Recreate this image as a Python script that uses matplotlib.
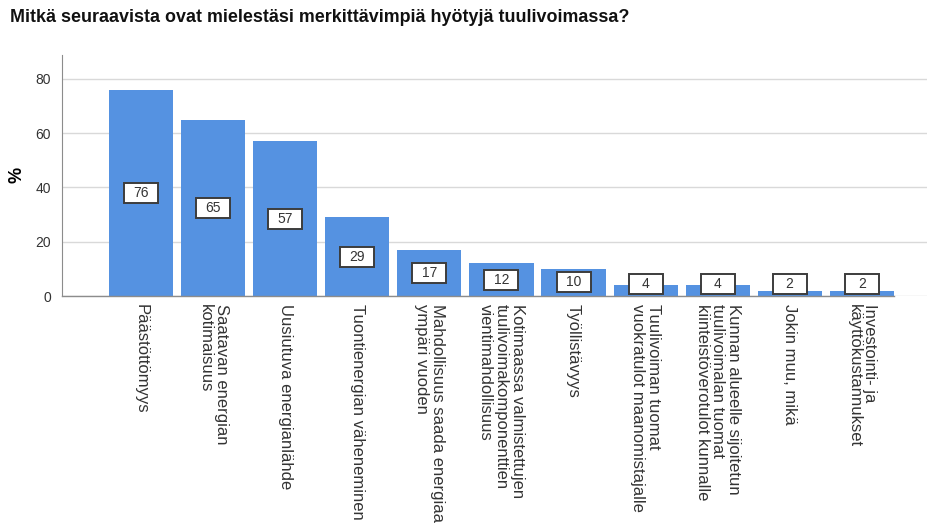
import matplotlib.pyplot as plt
from matplotlib.patches import Rectangle
from matplotlib.transforms import ScaledTranslation

plt.rcParams["font.family"] = ["Liberation Sans", "DejaVu Sans"]

# Data
categories = [
    "Päästöttömyys",
    "Saatavan energian\nkotimaisuus",
    "Uusiutuva energianlähde",
    "Tuontienergian väheneminen",
    "Mahdollisuus saada energiaa\nympäri vuoden",
    "Kotimaassa valmistettujen\ntuulivoimakomponenttien\nvientimahdollisuus",
    "Työllistävyys",
    "Tuulivoiman tuomat\nvuokratulot maanomistajalle",
    "Kunnan alueelle sijoitetun\ntuulivoimalan tuomat\nkiinteistöverotulot kunnalle",
    "Jokin muu, mikä",
    "Investointi- ja\nkäyttökustannukset",
]
values = [76, 65, 57, 29, 17, 12, 10, 4, 4, 2, 2]
yticks = [0, 20, 40, 60, 80]

title = "Mitkä seuraavista ovat mielestäsi merkittävimpiä hyötyjä tuulivoimassa?"
bar_color = "#5592e1"

fig = plt.figure(figsize=(9.28, 5.28), dpi=100)
ax = fig.add_axes([62 / 928, 1 - 296 / 528, 1 - 62 / 928, (296 - 55) / 528])

x = list(range(len(values)))
width = 0.89
ax.bar(x, values, width=width, color=bar_color, zorder=2)

ax.set_xlim(-1.1, 10.92)
ax.set_ylim(0, 88.8)
ax.set_yticks(yticks)
ax.yaxis.grid(True, color="#d9d9d9", linewidth=1, zorder=0)
ax.tick_params(axis="y", length=0, labelsize=10, colors="#333333", pad=8)

for side in ["top", "right", "bottom"]:
    ax.spines[side].set_visible(False)
ax.spines["left"].set_color("#8c8c8c")

# baseline under the bars
ax.plot([-1.1, x[-1] + width / 2], [0, 0], color="#8c8c8c", linewidth=1,
        zorder=3, clip_on=False)

ax.set_xticks(x)
ax.set_xticklabels(categories, rotation=270, fontsize=12, color="#333333",
                   ha="center", va="top", multialignment="left",
                   linespacing=1.05)
ax.tick_params(axis="x", length=0, pad=6)

ax.set_ylabel("%", fontsize=13, fontweight="bold")
ax.yaxis.set_label_coords(-36 / 866, (296 - 175) / 241)

# value boxes in the middle of each bar
for xi, v in zip(x, values):
    ypos = max(v / 2, 4.4)
    box_tr = fig.dpi_scale_trans + ScaledTranslation(xi, ypos, ax.transData)
    ax.add_patch(Rectangle((-0.17, -0.10), 0.34, 0.20, transform=box_tr,
                           facecolor="white", edgecolor="#3c3c3c",
                           linewidth=1.4, zorder=4))
    ax.text(xi, ypos, str(v), fontsize=10, color="#333333", ha="center",
            va="center", zorder=5)

fig.text(10 / 928, 1 - 17 / 528, title, fontsize=12.9, fontweight="bold",
         color="#111111", ha="left", va="center")

fig.savefig("out.png", dpi=100)
